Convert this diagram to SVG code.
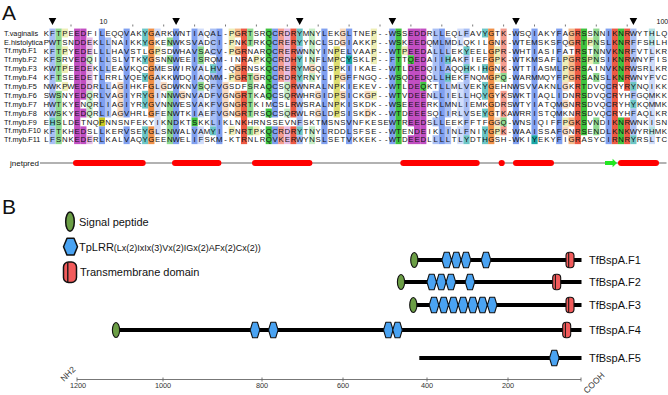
<svg xmlns="http://www.w3.org/2000/svg" width="668" height="395" viewBox="0 0 668 395">
<style>
text{font-family:"Liberation Sans",Arial,sans-serif;fill:#111}
.lab{font-size:7.3px}
.seq{font-size:7.8px;text-anchor:middle}
.rul{font-size:7px}
.pan{font-size:21px}
.leg{font-size:11px}
.legs{font-size:9px}
.ax{font-size:7.3px;fill:#333;text-anchor:middle}
.b1{fill:#80a0f0}.b2{fill:#a9bff5}.b3{fill:#d0dcfa}
.r1{fill:#ee5a44}.r2{fill:#f49c8f}
.g1{fill:#3fc23f}.g2{fill:#8fd98f}.g3{fill:#c4ecc4}
.m1{fill:#c24ec2}.m3{fill:#e6bde6}
.o1{fill:#f09048}.o2{fill:#f5b887}.o3{fill:#f9dac0}
.y1{fill:#c8c820}.y2{fill:#dede70}.y3{fill:#eeeeb5}
.c1{fill:#1aa6a6}.c2{fill:#6cc6c6}.c3{fill:#b5e2e2}
.hex{fill:#4aa3f2;stroke:#111;stroke-width:1.1;stroke-linejoin:round}
.sig{fill:#6b9e45;stroke:#111;stroke-width:1.1}
.tmr{fill:#f25b5b;stroke:#111;stroke-width:1.1}
.tml{stroke:#111;stroke-width:1}
.bb{stroke:#000;stroke-width:3.8;fill:none}
</style>
<defs>
<polygon id="hx" class="hex" points="-4.8,0 -2.4,-7.8 2.4,-7.8 4.8,0 2.4,7.8 -2.4,7.8"/>
<ellipse id="ov" class="sig" rx="3.6" ry="7.5"/>
<g id="tm"><rect class="tmr" x="-4" y="-7.8" width="8" height="15.6" rx="3.5"/><line class="tml" x1="-1.3" y1="-7.3" x2="-1.3" y2="7.3"/></g>
</defs>

<text class="pan" x="2" y="19.5">A</text>

<g id="ruler">
<path d="M48.7 18h7.6l-3.8 7zM172.3 18h7.6l-3.8 7zM295.9 18h7.6l-3.8 7zM388.6 18h7.6l-3.8 7zM512.2 18h7.6l-3.8 7zM629.6 18h7.6l-3.8 7z" fill="#000"/>
<path d="M71 24.5v2M132.8 24.5v2M163.7 24.5v2M194.6 24.5v2M225.5 24.5v2M256.4 24.5v2M287.3 24.5v2M318.2 24.5v2M349.1 24.5v2M380 24.5v2M410.9 24.5v2M441.8 24.5v2M472.7 24.5v2M503.6 24.5v2M534.5 24.5v2M565.4 24.5v2M596.3 24.5v2M627.2 24.5v2" stroke="#555" stroke-width="0.8"/>
<text class="rul" x="99.5" y="24">10</text>
<text class="rul" x="656.5" y="24">100</text>
</g>

<g id="cells" transform="translate(43.21 28.56) scale(6.18 8.89)">
<rect class="b2" x="1" y="0" width="1" height="10"/><rect class="c2" x="1" y="10" width="1" height="1"/><rect class="b2" x="1" y="11" width="1" height="2"/>
<rect class="g2" x="2" y="0" width="1" height="6"/><rect class="g2" x="2" y="7" width="1" height="6"/>
<rect class="y3" x="3" y="0" width="1" height="1"/><rect class="y3" x="3" y="2" width="1" height="1"/><rect class="y3" x="3" y="4" width="1" height="1"/><rect class="y3" x="3" y="6" width="1" height="1"/>
<rect class="m1" x="5" y="0" width="1" height="13"/>
<rect class="m1" x="6" y="0" width="1" height="8"/><rect class="m1" x="6" y="9" width="1" height="1"/><rect class="m1" x="6" y="11" width="1" height="2"/>
<rect class="m3" x="7" y="1" width="1" height="2"/><rect class="g3" x="7" y="3" width="1" height="1"/><rect class="m3" x="7" y="4" width="1" height="3"/><rect class="g3" x="7" y="7" width="1" height="3"/><rect class="m3" x="7" y="12" width="1" height="1"/>
<rect class="b1" x="9" y="0" width="1" height="10"/><rect class="y1" x="9" y="10" width="1" height="1"/><rect class="b1" x="9" y="11" width="1" height="2"/>
<rect class="b2" x="10" y="1" width="1" height="4"/><rect class="b2" x="10" y="6" width="1" height="4"/>
<rect class="o3" x="12" y="6" width="1" height="4"/>
<rect class="b1" x="13" y="0" width="1" height="10"/><rect class="b1" x="13" y="11" width="1" height="2"/>
<rect class="c2" x="16" y="0" width="1" height="2"/><rect class="c2" x="16" y="3" width="1" height="1"/><rect class="c2" x="16" y="5" width="1" height="1"/><rect class="c2" x="16" y="7" width="1" height="2"/><rect class="c2" x="16" y="11" width="1" height="2"/>
<rect class="o1" x="17" y="0" width="1" height="10"/><rect class="o1" x="17" y="11" width="1" height="2"/>
<rect class="b3" x="18" y="0" width="1" height="1"/><rect class="y3" x="18" y="2" width="1" height="1"/><rect class="b3" x="18" y="4" width="1" height="8"/>
<rect class="o3" x="19" y="6" width="1" height="1"/>
<rect class="g2" x="20" y="1" width="1" height="1"/><rect class="g2" x="20" y="3" width="1" height="1"/><rect class="g2" x="20" y="7" width="1" height="6"/>
<rect class="b1" x="21" y="0" width="1" height="13"/>
<rect class="o3" x="22" y="7" width="1" height="1"/>
<rect class="b1" x="24" y="0" width="1" height="10"/><rect class="g1" x="24" y="10" width="1" height="1"/><rect class="b1" x="24" y="11" width="1" height="2"/>
<rect class="b3" x="25" y="0" width="1" height="2"/><rect class="g2" x="25" y="2" width="1" height="2"/><rect class="b3" x="25" y="4" width="1" height="2"/><rect class="g2" x="25" y="6" width="1" height="1"/><rect class="b3" x="25" y="7" width="1" height="3"/><rect class="b3" x="25" y="11" width="1" height="2"/>
<rect class="b2" x="27" y="0" width="1" height="3"/><rect class="c2" x="27" y="4" width="1" height="1"/><rect class="b2" x="27" y="5" width="1" height="6"/><rect class="c2" x="27" y="11" width="1" height="1"/>
<rect class="b1" x="28" y="0" width="1" height="13"/>
<rect class="o3" x="29" y="6" width="1" height="4"/>
<rect class="y3" x="30" y="0" width="1" height="3"/><rect class="y3" x="30" y="5" width="1" height="1"/><rect class="y3" x="30" y="11" width="1" height="1"/>
<rect class="o2" x="31" y="0" width="1" height="1"/><rect class="o2" x="31" y="2" width="1" height="1"/><rect class="o2" x="31" y="4" width="1" height="2"/><rect class="o2" x="31" y="7" width="1" height="3"/>
<rect class="r1" x="32" y="0" width="1" height="6"/><rect class="r1" x="32" y="7" width="1" height="6"/>
<rect class="g2" x="33" y="0" width="1" height="2"/><rect class="g2" x="33" y="5" width="1" height="5"/><rect class="g2" x="33" y="11" width="1" height="1"/>
<rect class="y3" x="34" y="3" width="1" height="1"/><rect class="o3" x="34" y="5" width="1" height="1"/><rect class="y3" x="34" y="11" width="1" height="1"/>
<rect class="g1" x="36" y="0" width="1" height="8"/><rect class="g1" x="36" y="9" width="1" height="1"/><rect class="g1" x="36" y="11" width="1" height="2"/>
<rect class="b1" x="37" y="0" width="1" height="10"/><rect class="b1" x="37" y="11" width="1" height="2"/>
<rect class="r2" x="38" y="0" width="1" height="6"/><rect class="r2" x="38" y="11" width="1" height="2"/>
<rect class="m3" x="39" y="0" width="1" height="6"/><rect class="g3" x="39" y="6" width="1" height="2"/><rect class="g3" x="39" y="9" width="1" height="1"/><rect class="m3" x="39" y="11" width="1" height="2"/>
<rect class="r1" x="40" y="0" width="1" height="10"/><rect class="r1" x="40" y="11" width="1" height="2"/>
<rect class="c2" x="41" y="0" width="1" height="2"/><rect class="b2" x="41" y="2" width="1" height="1"/><rect class="c2" x="41" y="3" width="1" height="3"/><rect class="b2" x="41" y="6" width="1" height="5"/><rect class="c2" x="41" y="11" width="1" height="1"/><rect class="b2" x="41" y="12" width="1" height="1"/>
<rect class="g3" x="43" y="0" width="1" height="4"/><rect class="o3" x="43" y="4" width="1" height="1"/><rect class="g3" x="43" y="5" width="1" height="1"/><rect class="g3" x="43" y="11" width="1" height="2"/>
<rect class="o3" x="44" y="7" width="1" height="1"/><rect class="o3" x="44" y="9" width="1" height="1"/>
<rect class="b1" x="45" y="0" width="1" height="13"/>
<rect class="y2" x="47" y="2" width="1" height="8"/>
<rect class="o3" x="48" y="0" width="1" height="2"/><rect class="o3" x="48" y="5" width="1" height="1"/><rect class="o3" x="48" y="7" width="1" height="1"/>
<rect class="b1" x="49" y="0" width="1" height="3"/><rect class="c1" x="49" y="3" width="1" height="1"/><rect class="b1" x="49" y="4" width="1" height="9"/>
<rect class="o3" x="52" y="7" width="1" height="1"/><rect class="o3" x="52" y="9" width="1" height="1"/>
<rect class="y3" x="53" y="0" width="1" height="4"/><rect class="y3" x="53" y="7" width="1" height="1"/>
<rect class="b1" x="56" y="0" width="1" height="13"/>
<rect class="g1" x="57" y="0" width="1" height="13"/>
<rect class="y3" x="58" y="2" width="1" height="1"/>
<rect class="m1" x="59" y="0" width="1" height="3"/><rect class="g1" x="59" y="3" width="1" height="1"/><rect class="m1" x="59" y="4" width="1" height="7"/><rect class="m1" x="59" y="12" width="1" height="1"/>
<rect class="m1" x="60" y="0" width="1" height="13"/>
<rect class="m1" x="61" y="0" width="1" height="6"/><rect class="g1" x="61" y="6" width="1" height="1"/><rect class="m1" x="61" y="7" width="1" height="6"/>
<rect class="b2" x="63" y="0" width="1" height="6"/><rect class="b2" x="63" y="7" width="1" height="1"/><rect class="b2" x="63" y="10" width="1" height="1"/><rect class="b2" x="63" y="12" width="1" height="1"/>
<rect class="b1" x="64" y="0" width="1" height="13"/>
<rect class="b2" x="65" y="1" width="1" height="2"/><rect class="c2" x="65" y="3" width="1" height="1"/><rect class="b2" x="65" y="4" width="1" height="1"/><rect class="c2" x="65" y="5" width="1" height="1"/><rect class="b2" x="65" y="6" width="1" height="4"/><rect class="b2" x="65" y="11" width="1" height="2"/>
<rect class="b3" x="67" y="0" width="1" height="2"/><rect class="b3" x="67" y="6" width="1" height="4"/><rect class="b3" x="67" y="11" width="1" height="2"/>
<rect class="b2" x="68" y="0" width="1" height="1"/><rect class="c2" x="68" y="2" width="1" height="1"/><rect class="b2" x="68" y="3" width="1" height="1"/><rect class="c2" x="68" y="4" width="1" height="1"/><rect class="b2" x="68" y="5" width="1" height="7"/><rect class="c2" x="68" y="12" width="1" height="1"/>
<rect class="c2" x="71" y="0" width="1" height="1"/><rect class="c2" x="71" y="4" width="1" height="1"/><rect class="c2" x="71" y="6" width="1" height="2"/><rect class="c2" x="71" y="9" width="1" height="1"/><rect class="c2" x="71" y="11" width="1" height="2"/>
<rect class="o1" x="72" y="0" width="1" height="13"/>
<rect class="y3" x="73" y="2" width="1" height="2"/><rect class="y3" x="73" y="5" width="1" height="1"/><rect class="o3" x="73" y="10" width="1" height="1"/><rect class="y3" x="73" y="11" width="1" height="1"/>
<rect class="r2" x="74" y="0" width="1" height="5"/><rect class="g2" x="74" y="5" width="1" height="1"/><rect class="r2" x="74" y="7" width="1" height="3"/><rect class="g2" x="74" y="10" width="1" height="1"/><rect class="r2" x="74" y="11" width="1" height="1"/>
<rect class="b1" x="76" y="0" width="1" height="13"/>
<rect class="b1" x="79" y="0" width="1" height="12"/><rect class="c1" x="79" y="12" width="1" height="1"/>
<rect class="b1" x="83" y="0" width="1" height="13"/>
<rect class="y3" x="84" y="3" width="1" height="3"/><rect class="o3" x="84" y="6" width="1" height="1"/><rect class="o3" x="84" y="8" width="1" height="1"/><rect class="y3" x="84" y="10" width="1" height="1"/><rect class="o3" x="84" y="11" width="1" height="1"/>
<rect class="o2" x="85" y="0" width="1" height="2"/><rect class="o2" x="85" y="3" width="1" height="3"/><rect class="o2" x="85" y="10" width="1" height="1"/><rect class="o2" x="85" y="12" width="1" height="1"/>
<rect class="r1" x="86" y="0" width="1" height="13"/>
<rect class="g1" x="87" y="0" width="1" height="12"/>
<rect class="y3" x="88" y="1" width="1" height="1"/><rect class="y3" x="88" y="3" width="1" height="1"/>
<rect class="g2" x="89" y="0" width="1" height="4"/><rect class="g2" x="89" y="5" width="1" height="1"/><rect class="g2" x="89" y="10" width="1" height="2"/>
<rect class="b1" x="91" y="0" width="1" height="13"/>
<rect class="r1" x="92" y="0" width="1" height="13"/>
<rect class="g1" x="93" y="0" width="1" height="6"/><rect class="g1" x="93" y="10" width="1" height="3"/>
<rect class="r1" x="94" y="0" width="1" height="7"/><rect class="r1" x="94" y="10" width="1" height="3"/>
<rect class="b2" x="95" y="0" width="1" height="6"/><rect class="c2" x="95" y="6" width="1" height="1"/><rect class="b2" x="95" y="7" width="1" height="1"/><rect class="c2" x="95" y="8" width="1" height="1"/><rect class="b2" x="95" y="9" width="1" height="3"/><rect class="c2" x="95" y="12" width="1" height="1"/>
<rect class="c3" x="98" y="0" width="1" height="2"/><rect class="b3" x="98" y="2" width="1" height="9"/><rect class="c3" x="98" y="11" width="1" height="1"/><rect class="b3" x="98" y="12" width="1" height="1"/>
</g>

<g id="labels">
<text class="lab" x="4" y="35.6">T.vaginalis</text>
<text class="lab" x="4" y="44.5">E.histolytica</text>
<text class="lab" x="4" y="53.4">Tf.myb.F1</text>
<text class="lab" x="4" y="62.3">Tf.myb.F2</text>
<text class="lab" x="4" y="71.2">Tf.myb.F3</text>
<text class="lab" x="4" y="80.1">Tf.myb.F4</text>
<text class="lab" x="4" y="88.9">Tf.myb.F5</text>
<text class="lab" x="4" y="97.8">Tf.myb.F6</text>
<text class="lab" x="4" y="106.7">Tf.myb.F7</text>
<text class="lab" x="4" y="115.6">Tf.myb.F8</text>
<text class="lab" x="4" y="124.5">Tf.myb.F9</text>
<text class="lab" x="4" y="133.4">Tf.myb.F10</text>
<text class="lab" x="4" y="142.3">Tf.myb.F11</text>
</g>

<g id="sequences">
<text class="seq" y="35.8" x="46.3 52.5 58.7 64.8 71 77.2 83.4 89.6 95.7 101.9 108.1 114.3 120.5 126.6 132.8 139 145.2 151.4 157.5 163.7 169.9 176.1 182.3 188.4 194.6 200.8 207 213.2 219.3 225.5 231.7 237.9 244.1 250.2 256.4 262.6 268.8 275 281.1 287.3 293.5 299.7 305.9 312 318.2 324.4 330.6 336.8 342.9 349.1 355.3 361.5 367.7 373.8 380 386.2 392.4 398.6 404.7 410.9 417.1 423.3 429.5 435.6 441.8 448 454.2 460.4 466.5 472.7 478.9 485.1 491.3 497.4 503.6 509.8 516 522.2 528.3 534.5 540.7 546.9 553.1 559.2 565.4 571.6 577.8 584 590.1 596.3 602.5 608.7 614.9 621 627.2 633.4 639.6 645.8 651.9 658.1 664.3">KFTPEEDFILEQQVAKYGARKWNTIAQAL-PGRTSRQCRDRYMNYLEKGLTNEP--WSSEDDRLLEQLFAVYGTK-WSQIAKYFAGRSSNNIKNRWYTHLQ</text>
<text class="seq" y="44.69" x="46.3 52.5 58.7 64.8 71 77.2 83.4 89.6 95.7 101.9 108.1 114.3 120.5 126.6 132.8 139 145.2 151.4 157.5 163.7 169.9 176.1 182.3 188.4 194.6 200.8 207 213.2 219.3 225.5 231.7 237.9 244.1 250.2 256.4 262.6 268.8 275 281.1 287.3 293.5 299.7 305.9 312 318.2 324.4 330.6 336.8 342.9 349.1 355.3 361.5 367.7 373.8 380 386.2 392.4 398.6 404.7 410.9 417.1 423.3 429.5 435.6 441.8 448 454.2 460.4 466.5 472.7 478.9 485.1 491.3 497.4 503.6 509.8 516 522.2 528.3 534.5 540.7 546.9 553.1 559.2 565.4 571.6 577.8 584 590.1 596.3 602.5 608.7 614.9 621 627.2 633.4 639.6 645.8 651.9 658.1 664.3">PWTSNDDEKLLNAIKKYGKENWKSVADCI-PNKTRKQCRERYYNCLSDGIAKKP--WSKEEDQMLMDLQKILGNK-WTEMSKSFQGRTPNSLKNRFFSHLH</text>
<text class="seq" y="53.58" x="46.3 52.5 58.7 64.8 71 77.2 83.4 89.6 95.7 101.9 108.1 114.3 120.5 126.6 132.8 139 145.2 151.4 157.5 163.7 169.9 176.1 182.3 188.4 194.6 200.8 207 213.2 219.3 225.5 231.7 237.9 244.1 250.2 256.4 262.6 268.8 275 281.1 287.3 293.5 299.7 305.9 312 318.2 324.4 330.6 336.8 342.9 349.1 355.3 361.5 367.7 373.8 380 386.2 392.4 398.6 404.7 410.9 417.1 423.3 429.5 435.6 441.8 448 454.2 460.4 466.5 472.7 478.9 485.1 491.3 497.4 503.6 509.8 516 522.2 528.3 534.5 540.7 546.9 553.1 559.2 565.4 571.6 577.8 584 590.1 596.3 602.5 608.7 614.9 621 627.2 633.4 639.6 645.8 651.9 658.1 664.3">KFTPYEDELLLHAVSTLGPSDWHAVSACV-PGRNARQCRERWNNYINPELVAAP--WTPEEDALLLEKYEELGPR-WHTIASIFATRSTNNVKNRFVTLKR</text>
<text class="seq" y="62.47" x="46.3 52.5 58.7 64.8 71 77.2 83.4 89.6 95.7 101.9 108.1 114.3 120.5 126.6 132.8 139 145.2 151.4 157.5 163.7 169.9 176.1 182.3 188.4 194.6 200.8 207 213.2 219.3 225.5 231.7 237.9 244.1 250.2 256.4 262.6 268.8 275 281.1 287.3 293.5 299.7 305.9 312 318.2 324.4 330.6 336.8 342.9 349.1 355.3 361.5 367.7 373.8 380 386.2 392.4 398.6 404.7 410.9 417.1 423.3 429.5 435.6 441.8 448 454.2 460.4 466.5 472.7 478.9 485.1 491.3 497.4 503.6 509.8 516 522.2 528.3 534.5 540.7 546.9 553.1 559.2 565.4 571.6 577.8 584 590.1 596.3 602.5 608.7 614.9 621 627.2 633.4 639.6 645.8 651.9 658.1 664.3">KFSRVEDQILLSLVTKYGSNNWEEISRQM-INRAPKQCRDHYINFLMPCYSKLP--FTTQEDAIIHAKFIEFGPK-WTKMSAFLPGRSPNSIKNRWNYFIS</text>
<text class="seq" y="71.36" x="46.3 52.5 58.7 64.8 71 77.2 83.4 89.6 95.7 101.9 108.1 114.3 120.5 126.6 132.8 139 145.2 151.4 157.5 163.7 169.9 176.1 182.3 188.4 194.6 200.8 207 213.2 219.3 225.5 231.7 237.9 244.1 250.2 256.4 262.6 268.8 275 281.1 287.3 293.5 299.7 305.9 312 318.2 324.4 330.6 336.8 342.9 349.1 355.3 361.5 367.7 373.8 380 386.2 392.4 398.6 404.7 410.9 417.1 423.3 429.5 435.6 441.8 448 454.2 460.4 466.5 472.7 478.9 485.1 491.3 497.4 503.6 509.8 516 522.2 528.3 534.5 540.7 546.9 553.1 559.2 565.4 571.6 577.8 584 590.1 596.3 602.5 608.7 614.9 621 627.2 633.4 639.6 645.8 651.9 658.1 664.3">KWTPEEDEKLLEAVKQCGMESWIRVALHV-QGRNSKQCRERYMGQLSPKIIKAE--WTLDEDQILAQQHKIHGNK-WTTIASMLPGRSAINVKNRWSRLKR</text>
<text class="seq" y="80.25" x="46.3 52.5 58.7 64.8 71 77.2 83.4 89.6 95.7 101.9 108.1 114.3 120.5 126.6 132.8 139 145.2 151.4 157.5 163.7 169.9 176.1 182.3 188.4 194.6 200.8 207 213.2 219.3 225.5 231.7 237.9 244.1 250.2 256.4 262.6 268.8 275 281.1 287.3 293.5 299.7 305.9 312 318.2 324.4 330.6 336.8 342.9 349.1 355.3 361.5 367.7 373.8 380 386.2 392.4 398.6 404.7 410.9 417.1 423.3 429.5 435.6 441.8 448 454.2 460.4 466.5 472.7 478.9 485.1 491.3 497.4 503.6 509.8 516 522.2 528.3 534.5 540.7 546.9 553.1 559.2 565.4 571.6 577.8 584 590.1 596.3 602.5 608.7 614.9 621 627.2 633.4 639.6 645.8 651.9 658.1 664.3">KFTSEEDETLRRLVQEYGAKKWDQIAQMM-PGRTGRQCRDRYRNYLIPGFFNGQ--WSQDEDQLLHEKFNQMGPQ-WARMMQYFPGRSANSLKNRWNYFVC</text>
<text class="seq" y="89.14" x="46.3 52.5 58.7 64.8 71 77.2 83.4 89.6 95.7 101.9 108.1 114.3 120.5 126.6 132.8 139 145.2 151.4 157.5 163.7 169.9 176.1 182.3 188.4 194.6 200.8 207 213.2 219.3 225.5 231.7 237.9 244.1 250.2 256.4 262.6 268.8 275 281.1 287.3 293.5 299.7 305.9 312 318.2 324.4 330.6 336.8 342.9 349.1 355.3 361.5 367.7 373.8 380 386.2 392.4 398.6 404.7 410.9 417.1 423.3 429.5 435.6 441.8 448 454.2 460.4 466.5 472.7 478.9 485.1 491.3 497.4 503.6 509.8 516 522.2 528.3 534.5 540.7 546.9 553.1 559.2 565.4 571.6 577.8 584 590.1 596.3 602.5 608.7 614.9 621 627.2 633.4 639.6 645.8 651.9 658.1 664.3">NWKPWEDDRLLAGIHKFGLGDWKNVSQFVGSDFSRAQCSQRWNRALNPKIEKEV--WTLDEQKTLLMLVEKYGEHNWSVVAKNLGKRTDVQCRYRYNQIKK</text>
<text class="seq" y="98.03" x="46.3 52.5 58.7 64.8 71 77.2 83.4 89.6 95.7 101.9 108.1 114.3 120.5 126.6 132.8 139 145.2 151.4 157.5 163.7 169.9 176.1 182.3 188.4 194.6 200.8 207 213.2 219.3 225.5 231.7 237.9 244.1 250.2 256.4 262.6 268.8 275 281.1 287.3 293.5 299.7 305.9 312 318.2 324.4 330.6 336.8 342.9 349.1 355.3 361.5 367.7 373.8 380 386.2 392.4 398.6 404.7 410.9 417.1 423.3 429.5 435.6 441.8 448 454.2 460.4 466.5 472.7 478.9 485.1 491.3 497.4 503.6 509.8 516 522.2 528.3 534.5 540.7 546.9 553.1 559.2 565.4 571.6 577.8 584 590.1 596.3 602.5 608.7 614.9 621 627.2 633.4 639.6 645.8 651.9 658.1 664.3">SWSNYEDQRLVAGIYRYGINNWGNVADFVGNGRTKAQCSQRWHRGIDPSICKGP--WTVDEENLLIELLHQYGYKSWKTIAQLIDNRSDVQCRYHFGQMKK</text>
<text class="seq" y="106.92" x="46.3 52.5 58.7 64.8 71 77.2 83.4 89.6 95.7 101.9 108.1 114.3 120.5 126.6 132.8 139 145.2 151.4 157.5 163.7 169.9 176.1 182.3 188.4 194.6 200.8 207 213.2 219.3 225.5 231.7 237.9 244.1 250.2 256.4 262.6 268.8 275 281.1 287.3 293.5 299.7 305.9 312 318.2 324.4 330.6 336.8 342.9 349.1 355.3 361.5 367.7 373.8 380 386.2 392.4 398.6 404.7 410.9 417.1 423.3 429.5 435.6 441.8 448 454.2 460.4 466.5 472.7 478.9 485.1 491.3 497.4 503.6 509.8 516 522.2 528.3 534.5 540.7 546.9 553.1 559.2 565.4 571.6 577.8 584 590.1 596.3 602.5 608.7 614.9 621 627.2 633.4 639.6 645.8 651.9 658.1 664.3">HWTKYENQRLIAGIYRYGVNNWESVAKFVGNGRTKIMCSLRWSRALNPKISKDK--WSEEEERKLMNLIEMKGDRSWTYIATQMGNRSDVQCRYHYKQMMK</text>
<text class="seq" y="115.81" x="46.3 52.5 58.7 64.8 71 77.2 83.4 89.6 95.7 101.9 108.1 114.3 120.5 126.6 132.8 139 145.2 151.4 157.5 163.7 169.9 176.1 182.3 188.4 194.6 200.8 207 213.2 219.3 225.5 231.7 237.9 244.1 250.2 256.4 262.6 268.8 275 281.1 287.3 293.5 299.7 305.9 312 318.2 324.4 330.6 336.8 342.9 349.1 355.3 361.5 367.7 373.8 380 386.2 392.4 398.6 404.7 410.9 417.1 423.3 429.5 435.6 441.8 448 454.2 460.4 466.5 472.7 478.9 485.1 491.3 497.4 503.6 509.8 516 522.2 528.3 534.5 540.7 546.9 553.1 559.2 565.4 571.6 577.8 584 590.1 596.3 602.5 608.7 614.9 621 627.2 633.4 639.6 645.8 651.9 658.1 664.3">KWSKYEDQRLIAGVHRLGFENWTKIAEFVGNGRTRSQCSQRWLRGLDPSISKDK--WTDEEESQLIRLVSEYGTKAWRRISTQMKNRSDVQCRYHFAQLKR</text>
<text class="seq" y="124.7" x="46.3 52.5 58.7 64.8 71 77.2 83.4 89.6 95.7 101.9 108.1 114.3 120.5 126.6 132.8 139 145.2 151.4 157.5 163.7 169.9 176.1 182.3 188.4 194.6 200.8 207 213.2 219.3 225.5 231.7 237.9 244.1 250.2 256.4 262.6 268.8 275 281.1 287.3 293.5 299.7 305.9 312 318.2 324.4 330.6 336.8 342.9 349.1 355.3 361.5 367.7 373.8 380 386.2 392.4 398.6 404.7 410.9 417.1 423.3 429.5 435.6 441.8 448 454.2 460.4 466.5 472.7 478.9 485.1 491.3 497.4 503.6 509.8 516 522.2 528.3 534.5 540.7 546.9 553.1 559.2 565.4 571.6 577.8 584 590.1 596.3 602.5 608.7 614.9 621 627.2 633.4 639.6 645.8 651.9 658.1 664.3">EHSLDETNQPNNSNFEKYIKNDKTSKKLIKLNKHRNSSEVNFSKTMSNSVNFKESEWTREEDSLLEEKFFTFGGQ-WNSIQIFFPGKSVNDIKNRWNKISN</text>
<text class="seq" y="133.59" x="46.3 52.5 58.7 64.8 71 77.2 83.4 89.6 95.7 101.9 108.1 114.3 120.5 126.6 132.8 139 145.2 151.4 157.5 163.7 169.9 176.1 182.3 188.4 194.6 200.8 207 213.2 219.3 225.5 231.7 237.9 244.1 250.2 256.4 262.6 268.8 275 281.1 287.3 293.5 299.7 305.9 312 318.2 324.4 330.6 336.8 342.9 349.1 355.3 361.5 367.7 373.8 380 386.2 392.4 398.6 404.7 410.9 417.1 423.3 429.5 435.6 441.8 448 454.2 460.4 466.5 472.7 478.9 485.1 491.3 497.4 503.6 509.8 516 522.2 528.3 534.5 540.7 546.9 553.1 559.2 565.4 571.6 577.8 584 590.1 596.3 602.5 608.7 614.9 621 627.2 633.4 639.6 645.8 651.9 658.1 664.3">KFTKHEDSLLKERVSEYGLSNWALVAMYI-PNRTPKQCRDRYTNYLRDDLSFSE--WTENDEIKLINLFNIYGPK-WAAISSAFGNRSENDLKNKWYRHMK</text>
<text class="seq" y="142.48" x="46.3 52.5 58.7 64.8 71 77.2 83.4 89.6 95.7 101.9 108.1 114.3 120.5 126.6 132.8 139 145.2 151.4 157.5 163.7 169.9 176.1 182.3 188.4 194.6 200.8 207 213.2 219.3 225.5 231.7 237.9 244.1 250.2 256.4 262.6 268.8 275 281.1 287.3 293.5 299.7 305.9 312 318.2 324.4 330.6 336.8 342.9 349.1 355.3 361.5 367.7 373.8 380 386.2 392.4 398.6 404.7 410.9 417.1 423.3 429.5 435.6 441.8 448 454.2 460.4 466.5 472.7 478.9 485.1 491.3 497.4 503.6 509.8 516 522.2 528.3 534.5 540.7 546.9 553.1 559.2 565.4 571.6 577.8 584 590.1 596.3 602.5 608.7 614.9 621 627.2 633.4 639.6 645.8 651.9 658.1 664.3">LFSNKEDERLKALVAQYGEENWELIFSKM-KTRNLRQVKERWYNSLSETVKKEK--WTDEEDLLLLTLYDTHGSH-WKIYEKYFIGRASYCIRNRYRSLTC</text>
</g>

<g id="jnetpred">
<text x="10" y="165.8" style="font-size:8px">jnetpred</text>
<line x1="40" y1="163" x2="666.5" y2="163" stroke="#999" stroke-width="1.4"/>
<path d="M76 163H142.7M175 163H218.4M255 163H309.4M403.3 163H476.7M516 163H551M621 163H656" stroke="#ff0000" stroke-width="6" stroke-linecap="round"/>
<circle cx="501.7" cy="163" r="3.1" fill="#ff0000"/>
<path d="M605 160.9h7.6v-2.2l4.4 4.3l-4.4 4.3v-2.2h-7.6z" fill="#22e622"/>
</g>

<text class="pan" x="2" y="213.5">B</text>

<g id="legend">
<g id="leg-signal"><ellipse class="sig" cx="70" cy="221.7" rx="4.3" ry="9.6" style="stroke-width:1.5"/><text class="leg" x="79" y="225.6">Signal peptide</text></g>
<g id="leg-lrr"><polygon class="hex" style="stroke-width:1.5" points="63.5,246.7 67,238.3 74,238.3 77.5,246.7 74,255.1 67,255.1"/><text class="leg" x="79" y="250.6">TpLRR<tspan class="legs">(Lx(2)IxIx(3)Vx(2)IGx(2)AFx(2)Cx(2))</tspan></text></g>
<g id="leg-tm"><rect class="tmr" style="stroke-width:1.5" x="63.5" y="262" width="13" height="20.5" rx="5"/><line class="tml" style="stroke-width:1.3" x1="67.8" y1="262.6" x2="67.8" y2="281.9"/><text class="leg" x="80" y="276.2">Transmembrane domain</text></g>
</g>

<g id="TfBspA.F1">
<line class="bb" x1="414" y1="260" x2="581.5" y2="260"/>
<use href="#ov" x="414.3" y="260"/>
<use href="#hx" x="446.7" y="260"/><use href="#hx" x="456.3" y="260"/><use href="#hx" x="466" y="260"/><use href="#hx" x="486" y="260"/>
<use href="#tm" x="570" y="260"/>
<text class="leg" x="589" y="264">TfBspA.F1</text>
</g>
<g id="TfBspA.F2">
<line class="bb" x1="401" y1="282" x2="581.5" y2="282"/>
<use href="#ov" x="401" y="282"/>
<use href="#hx" x="431.7" y="282"/><use href="#hx" x="441.3" y="282"/><use href="#hx" x="450.9" y="282"/><use href="#hx" x="470" y="282"/>
<use href="#tm" x="556.7" y="282"/>
<text class="leg" x="589" y="286">TfBspA.F2</text>
</g>
<g id="TfBspA.F3">
<line class="bb" x1="413" y1="305" x2="581.5" y2="305"/>
<use href="#ov" x="413.3" y="305"/>
<use href="#hx" x="434" y="305"/><use href="#hx" x="443.7" y="305"/><use href="#hx" x="453.4" y="305"/><use href="#hx" x="463.1" y="305"/><use href="#hx" x="472.8" y="305"/><use href="#hx" x="482.5" y="305"/><use href="#hx" x="492.2" y="305"/>
<use href="#tm" x="570" y="305"/>
<text class="leg" x="589" y="309">TfBspA.F3</text>
</g>
<g id="TfBspA.F4">
<line class="bb" x1="116" y1="330" x2="581.5" y2="330"/>
<use href="#ov" x="116" y="330"/>
<use href="#hx" x="255" y="330"/><use href="#hx" x="273.3" y="330"/><use href="#hx" x="388.3" y="330"/><use href="#hx" x="397.5" y="330"/>
<use href="#tm" x="566.7" y="330"/>
<text class="leg" x="589" y="334">TfBspA.F4</text>
</g>
<g id="TfBspA.F5">
<line class="bb" x1="419.3" y1="358" x2="581.5" y2="358"/>
<use href="#hx" x="554.3" y="358"/>
<text class="leg" x="589" y="362">TfBspA.F5</text>
</g>

<g id="axis">
<line x1="77" y1="379.5" x2="581" y2="379.5" stroke="#777" stroke-width="1"/>
<path d="M77 377.5v4M163 377.5v4M262 377.5v4M343 377.5v4M427 377.5v4M508 377.5v4M581 377.5v4" stroke="#666" stroke-width="0.9"/>
<text class="ax" x="78" y="388.3">1200</text>
<text class="ax" x="163" y="388.3">1000</text>
<text class="ax" x="262" y="388.3">800</text>
<text class="ax" x="343" y="388.3">600</text>
<text class="ax" x="427" y="388.3">400</text>
<text class="ax" x="508" y="388.3">200</text>
<text x="64" y="382" transform="rotate(-45 64 382)" style="font-size:8.5px;fill:#333">NH2</text>
<text x="587" y="394" transform="rotate(-45 587 394)" style="font-size:8.5px;fill:#333">COOH</text>
</g>
</svg>
